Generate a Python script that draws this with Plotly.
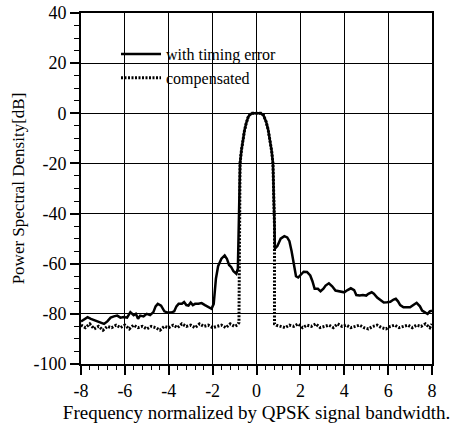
import plotly.graph_objects as go

# "with timing error" curve (frequency, PSD dB)
err_f = [-8.0, -7.85, -7.7, -7.55, -7.4, -7.25, -7.1, -6.95, -6.8, -6.65, -6.5, -6.35, -6.2, -6.05,
         -5.9, -5.75, -5.6, -5.5, -5.4, -5.3, -5.15, -5.0, -4.85, -4.7, -4.6, -4.5, -4.35, -4.2,
         -4.05, -3.9, -3.75, -3.65, -3.55, -3.4, -3.3, -3.2, -3.1, -3.0, -2.9, -2.8, -2.65, -2.5,
         -2.35, -2.2, -2.05, -1.95, -1.85, -1.75, -1.6, -1.45, -1.35, -1.25, -1.15, -1.05, -0.92,
         -0.85, -0.82, -0.78, -0.75, -0.69, -0.62, -0.55, -0.47, -0.38, -0.3, -0.2, 0.0, 0.2, 0.32,
         0.44, 0.53, 0.62, 0.69, 0.75, 0.79, 0.82, 0.84, 0.95, 1.1, 1.27, 1.4, 1.5, 1.6, 1.7, 1.8,
         1.9, 2.0, 2.15, 2.3, 2.45, 2.55, 2.65, 2.8, 2.92, 3.05, 3.15, 3.3, 3.45, 3.6, 3.75, 3.9,
         4.0, 4.15, 4.3, 4.45, 4.55, 4.7, 4.85, 5.0, 5.1, 5.25, 5.35, 5.5, 5.65, 5.8, 5.95, 6.1,
         6.25, 6.35, 6.45, 6.55, 6.7, 6.85, 7.0, 7.15, 7.3, 7.45, 7.55, 7.7, 7.8, 7.9, 8.0]
err_db = [-83, -82, -81.3, -82, -82.5, -83, -83.5, -84, -83, -81.5, -81, -80.7, -81.5, -81.3,
          -81.5, -79.3, -80.5, -80, -82, -80.7, -81, -80, -80.5, -79.3, -77, -76, -76.7, -79,
          -79.5, -79.5, -79, -77, -76, -76, -75.3, -76.5, -76.7, -75.5, -76.5, -76, -76, -75.7,
          -76.5, -77.3, -78, -76, -66, -61, -58, -56.7, -58, -60.5, -61.4, -63, -64,
          -62, -45, -30, -20, -15, -10.7, -7, -4, -1.5, -0.5, 0, 0, 0, -0.8,
          -3.4, -6.5, -10.7, -15, -20, -30, -45, -54, -53, -50, -49, -49.5, -51, -55, -60, -65,
          -65.5, -64.7, -63.2, -63.3, -64.7, -67, -70, -70, -71, -70, -68.7, -67.8, -69, -70.7, -71, -71,
          -71.4, -70.5, -69.8, -70.5, -72.5, -72.7, -72.5, -72.7, -72, -71.4, -72, -73.5, -74.5, -75.5, -75.4, -75.2,
          -74.3, -74, -75, -76.5, -77.4, -77.4, -77.4, -76.5, -75.6, -77, -78.7, -79.5, -80, -79, -78.7]

# "compensated" curve
comp_f = [-8.0, -7.8, -7.6, -7.4, -7.2, -7.0, -6.8, -6.6, -6.4, -6.2, -6.0, -5.8, -5.6, -5.4, -5.2,
          -5.0, -4.8, -4.6, -4.4, -4.2, -4.0, -3.8, -3.6, -3.4, -3.2, -3.0, -2.8, -2.6, -2.4, -2.2,
          -2.0, -1.8, -1.6, -1.4, -1.2, -1.0, -0.88, -0.8, -0.78, -0.75, -0.69, -0.62, -0.55, -0.47,
          -0.38, -0.3, -0.2, 0.0, 0.2, 0.32, 0.44, 0.53, 0.62, 0.69, 0.75, 0.79, 0.82, 0.82, 0.9,
          1.1, 1.3, 1.5, 1.7, 1.9, 2.1, 2.3, 2.5, 2.7, 2.9, 3.1, 3.3, 3.5, 3.7, 3.9, 4.1, 4.3, 4.5,
          4.7, 4.9, 5.1, 5.3, 5.5, 5.7, 5.9, 6.1, 6.3, 6.5, 6.7, 6.9, 7.1, 7.3, 7.5, 7.7, 7.9, 8.0]
comp_db = [-84.5, -85.5, -84, -86, -85, -86.5, -85, -85.5, -84.5, -85.5, -84.5, -86, -84.5, -85.5, -85,
           -86, -85, -85.5, -86.5, -85, -85.5, -84.5, -85.5, -84, -85, -84.5, -85.5, -84, -85, -84.5,
           -85.5, -85, -84.5, -85.5, -84, -85, -84.5, -83.5, -30, -20, -15, -10.7, -7, -4,
           -1.5, -0.5, 0, 0, 0, -0.8, -3.4, -6.5, -10.7, -15, -20, -30, -45, -84, -84.5,
           -85, -85.5, -84.5, -85, -84, -85.5, -84.5, -85, -84, -85.5, -85, -84.5, -85.5, -84, -85, -84.5, -85.5,
           -85, -84.5, -85.5, -86, -85, -84.5, -85.5, -86, -85, -84.5, -85.5, -85, -84.5, -85.5, -84.5, -85, -84, -85.5, -84]

x_ticks = [-8, -6, -4, -2, 0, 2, 4, 6, 8]
y_ticks = [-100, -80, -60, -40, -20, 0, 20, 40]

FONT = "Liberation Serif"

fig = go.Figure()
fig.add_trace(go.Scatter(x=err_f, y=err_db, mode="lines", name="with timing error",
                         line=dict(color="black", width=2.5)))
fig.add_trace(go.Scatter(x=comp_f, y=comp_db, mode="lines", name="compensated",
                         line=dict(color="black", width=3, dash="2px,1.5px")))

# white box behind the legend (covers grid lines)
fig.add_shape(type="rect", xref="paper", yref="paper",
              x0=(102 - 81) / 351, x1=(278 - 81) / 351,
              y0=(364 - 87) / 351, y1=(364 - 36) / 351,
              fillcolor="white", line=dict(width=0), layer="between")

axis_common = dict(showline=True, mirror=True, linecolor="black", linewidth=2,
                   showgrid=True, gridcolor="black", gridwidth=1.2, zeroline=False,
                   ticks="outside", ticklen=9, tickwidth=1.5, tickcolor="black",
                   tickfont=dict(family=FONT, size=18, color="black"))

fig.update_xaxes(range=[-8, 8], tickvals=x_ticks, ticktext=[str(v) for v in x_ticks],
                 minor=dict(dtick=0.4, tick0=-8, ticks="outside", ticklen=4, tickwidth=1.2,
                            tickcolor="black", showgrid=False),
                 title=dict(text="Frequency normalized by QPSK signal bandwidth.",
                            font=dict(family=FONT, size=19, color="black"), standoff=6),
                 **axis_common)
fig.update_yaxes(range=[-100, 40], tickvals=y_ticks, ticktext=[str(v) for v in y_ticks],
                 minor=dict(dtick=5, tick0=0, ticks="outside", ticklen=5, tickwidth=1.2,
                            tickcolor="black", showgrid=False),
                 title=dict(text="Power Spectral Density[dB]",
                            font=dict(family=FONT, size=17, color="black"), standoff=4),
                 **axis_common)

fig.update_layout(width=462, height=423, plot_bgcolor="white", paper_bgcolor="white",
                  margin=dict(l=81, r=30, t=13, b=59, autoexpand=False),
                  showlegend=True,
                  legend=dict(x=(116 - 81) / 351, y=(364 - 37) / 351, xanchor="left", yanchor="top",
                              bgcolor="rgba(0,0,0,0)", borderwidth=0,
                              font=dict(family=FONT, size=16, color="black"),
                              itemwidth=40, tracegroupgap=0))

fig.write_html("out.html")
